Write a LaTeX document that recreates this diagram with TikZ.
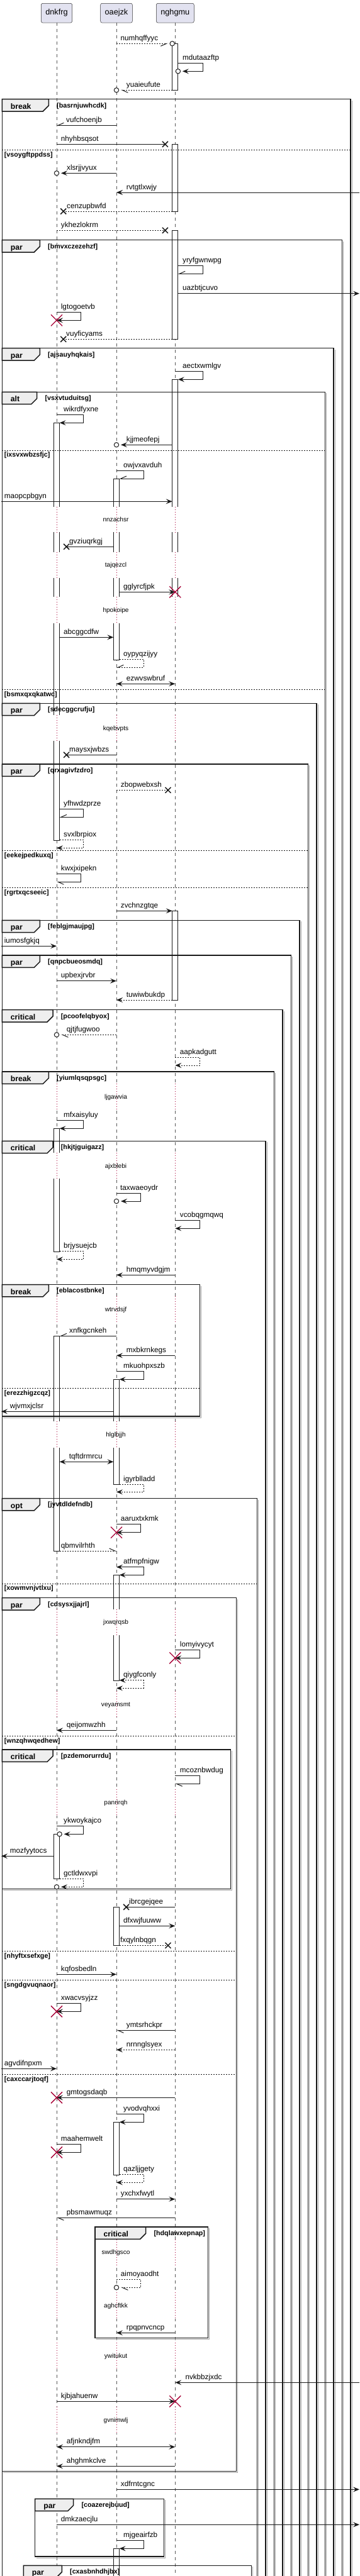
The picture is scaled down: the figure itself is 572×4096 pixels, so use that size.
\documentclass[tikz,border=0pt]{standalone}
\usepackage{fontspec}
\setmainfont{Liberation Sans}
\usetikzlibrary{arrows.meta,calc}

\definecolor{partfill}{HTML}{E2E2F0}
\definecolor{tabfill}{HTML}{EEEEEE}
\definecolor{delayred}{HTML}{A80036}

\tikzset{
  headF/.tip={Stealth[length=10pt,width=8pt,inset=4pt]},
  headH/.tip={Straight Barb[harpoon,length=9pt,width=8pt]},
  headHs/.tip={Straight Barb[harpoon,swap,length=9pt,width=8pt]},
}

% frame: left, top, right, bottom, tab width, kind, guard
\newcommand{\seqframe}[7]{%
  \draw[frameshadow] (#1+2,#4+2) -| (#3+2,#2+2);
  \draw[framebox] (#1,#2) rectangle (#3,#4);
  \filldraw[frametab] (#1,#2) -- (#1+#5,#2) -- (#1+#5,#2+10.3) -- (#1+#5-9,#2+19.3) -- (#1,#2+19.3) -- cycle;
  \node[framelbl] (#7-tab) at (#1+13.4,#2+15.6) {#6};
  \node[framecond] (#7) at (#1+#5+12.7,#2+13.4) {[#7]};
}
% else line: left, right, y, guard
\newcommand{\seqelse}[4]{%
  \draw[elseline] (#1,#3) -- (#2,#3);
  \node[framecond] (#4) at (#1+3.4,#3+10.8) {[#4]};
}
% delay: start, end, text
\newcommand{\seqdelay}[3]{%
  \foreach \lf in {d,o,n}{
    \fill[white] ($(\lf |- 0,#1)+(-6,0)$) rectangle ($(\lf |- 0,#2)+(6,0)$);
    \draw[delayline] (\lf |- 0,#1) -- (\lf |- 0,#2);
  }
  \node[delaylbl] (#3) at (184,{(#1+#2)/2+3.5}) {#3};
}
\newcommand{\lostmark}[1]{\draw[lostx] (#1) +(-4.5pt,-4.5pt) -- +(4.5pt,4.5pt) +(-4.5pt,4.5pt) -- +(4.5pt,-4.5pt);}
\newcommand{\destroymark}[1]{\draw[destroyx] (#1) +(-9pt,-9pt) -- +(9pt,9pt) +(-9pt,9pt) -- +(9pt,-9pt);}

\begin{document}
\begin{tikzpicture}[x=1pt, y=-1pt,
  partbox/.style={draw=black!80, line width=0.5pt, fill=partfill, rounded corners=2.5pt,
    minimum height=30.7pt, inner xsep=7pt, font=\fontsize{12.7}{15}\selectfont},
  lifeline/.style={draw=black!65, line width=0.5pt, dash pattern=on 5pt off 5pt},
  actbar/.style={draw=black!90, line width=1pt, fill=white},
  msg/.style={draw=black!90, line width=1pt},
  ret/.style={msg, dash pattern=on 2pt off 2pt},
  circ/.style={draw=black!90, line width=1pt, fill=white},
  lostx/.style={draw=black!90, line width=1.5pt},
  destroyx/.style={draw=delayred, line width=1.3pt},
  msglbl/.style={font=\fontsize{11.7}{14}\selectfont, inner sep=0pt, anchor=base west},
  framebox/.style={draw=black!90, line width=1.5pt},
  frameshadow/.style={draw=black!35, line width=1pt},
  frametab/.style={draw=black!90, line width=1.5pt, fill=tabfill},
  framelbl/.style={font=\bfseries\fontsize{12.2}{14}\selectfont, inner sep=0pt, anchor=base west},
  framecond/.style={font=\bfseries\fontsize{10.7}{13}\selectfont, inner sep=0pt, anchor=base west},
  elseline/.style={draw=black!90, line width=1pt, dash pattern=on 2pt off 2pt},
  delayline/.style={draw=delayred, line width=0.8pt, dash pattern=on 1pt off 3pt},
  delaylbl/.style={font=\fontsize{10.1}{12}\selectfont, inner sep=0pt, anchor=base},
]
\useasboundingbox (0,0) rectangle (572,4096);
\fill[white] (0,0) rectangle (572,4096);
\clip (0,0) rectangle (572,4096);

% Participants and lifelines
\node[partbox] (dnkfrg) at (90,20.7) {dnkfrg};
\node[partbox] (oaejzk) at (185,20.7) {oaejzk};
\node[partbox] (nghgmu) at (278.3,20.7) {nghgmu};
\coordinate (d) at (dnkfrg.south);
\coordinate (o) at (oaejzk.south);
\coordinate (n) at (nghgmu.south);
\coordinate (dL) at ($(d)+(-4.6,0)$);  \coordinate (dR) at ($(d)+(4.6,0)$);
\coordinate (oL) at ($(o)+(-4.6,0)$);  \coordinate (oR) at ($(o)+(4.6,0)$);
\coordinate (nL) at ($(n)+(-4.6,0)$);  \coordinate (nR) at ($(n)+(4.6,0)$);
\coordinate (dS) at ($(d)+(42.7,0)$);  \coordinate (dS0) at ($(d)+(38.3,0)$);
\coordinate (oS) at ($(o)+(43,0)$);    \coordinate (oS0) at ($(o)+(38.3,0)$);
\coordinate (nS) at ($(n)+(43.7,0)$);  \coordinate (nS0) at ($(n)+(39.4,0)$);
\coordinate (lft) at (2,0);
\coordinate (rgt) at (571,0);
\foreach \lf in {d,o,n} \draw[lifeline] (\lf) -- (\lf |- 0,4110);

% Activations
\foreach \a/\b in {69.3/143.3, 229.3/336, 366.3/539.3, 603.3/949.3, 1448.3/1590}
  \draw[actbar] (nL |- 0,\a) rectangle (nR |- 0,\b);
\foreach \a/\b in {761/1049.3, 2193.3/2360, 2504.3/2672.3, 3032.3/3093.3, 3374.3/3458.3, 4052.3/4110}
  \draw[actbar] (oL |- 0,\a) rectangle (oR |- 0,\b);
\foreach \a/\b in {672.3/1336, 1794.3/1990, 2124.3/2466, 2916.3/2987.7}
  \draw[actbar] (dL |- 0,\a) rectangle (dR |- 0,\b);

% Delays
\seqdelay{805.7}{846}{nnzachsr}
\seqdelay{877.7}{919}{tajqezcl}
\seqdelay{949.3}{991}{hpokoipe}
\seqdelay{1136.7}{1178.3}{kqebvpts}
\seqdelay{1723}{1764}{ljgawvia}
\seqdelay{1833.3}{1874}{ajxblebi}
\seqdelay{2061}{2102.3}{wtrvdsjf}
\seqdelay{2260}{2301.7}{hlglbjjh}
\seqdelay{2558.7}{2600}{jxwqrqsb}
\seqdelay{2689}{2730}{veyamsmt}
\seqdelay{2845}{2887}{panrirqh}
\seqdelay{3560.5}{3602}{swdhgsco}
\seqdelay{3645}{3687}{aghcftkk}
\seqdelay{3725}{3767}{ywitukut}
\seqdelay{3827}{3869}{gvnimwlj}

% Frames
\seqframe{3.3}{157.7}{557.2}{4110}{74}{break}{basrnjuwhcdk}
\seqelse{3.3}{557.2}{238.7}{vsoygftppdss}
\seqframe{3.3}{381.7}{543.7}{4110}{60}{par}{bmvxczezehzf}
\seqframe{3.3}{553.7}{530.2}{4110}{60}{par}{ajsauyhqkais}
\seqframe{3.3}{623.3}{516.7}{4110}{55.4}{alt}{vsxvtuduitsg}
\seqelse{3.3}{516.7}{716}{ixsvxwbzsfjc}
\seqelse{3.3}{516.7}{1096.3}{bsmxqxqkatwc}
\seqframe{3.3}{1118.3}{503.2}{4110}{60}{par}{sdecggcrufju}
\seqframe{3.3}{1215}{489.7}{4110}{60}{par}{qrxagivfzdro}
\seqelse{3.3}{489.7}{1352.3}{eekejpedkuxq}
\seqelse{3.3}{489.7}{1411.7}{rgrtxqcseeic}
\seqframe{3.3}{1463.3}{476.2}{4110}{60}{par}{feblgjmaujpg}
\seqframe{3.3}{1519}{462.7}{4110}{60}{par}{qnpcbueosmdq}
\seqframe{3.3}{1605.7}{449.2}{4110}{80.7}{critical}{pcoofelqbyox}
\seqframe{3.3}{1704}{435.7}{4110}{74}{break}{yiumlqsqpsgc}
\seqframe{3.3}{1814.3}{422.2}{4110}{80.7}{critical}{hkjtjguigazz}
\seqframe{3.3}{2042.5}{317.7}{2252}{74}{break}{eblacostbnke}
\seqelse{3.3}{317.7}{2207.3}{erezzhigzcqz}
\seqframe{3.3}{2382.5}{408.7}{4110}{60}{opt}{jyvtdldefndb}
\seqelse{3.3}{408.7}{2518}{xowmvnjvtlxu}
\seqframe{3.3}{2540.7}{375.3}{3929.3}{60}{par}{cdsysxjjajrl}
\seqelse{3.3}{375.3}{2760.3}{wnzqhwqedhew}
\seqelse{3.3}{375.3}{3102.3}{nhyftxsefxge}
\seqelse{3.3}{375.3}{3148.3}{sngdgvuqnaor}
\seqelse{3.3}{375.3}{3298.3}{caxccarjtoqf}
\seqframe{3.3}{2782}{366.3}{3003.7}{80.7}{critical}{pzdemorurrdu}
\seqframe{151}{3541}{330.3}{3717.7}{80.7}{critical}{hdqlawxepnap}
\seqframe{55.7}{3973.3}{260.7}{4065}{61}{par}{coazerejbuud}
\seqframe{37.3}{4079.3}{399.7}{4110}{61}{par}{cxasbnhdhjbx}

% Messages
% numhqffyyc
\draw[ret,-{headHs}] (o |- 0,69.3) -- ($(nL |- 0,69.3)+(-7,0)$);
\draw[circ] (nL |- 0,69.3) circle (3.7pt);
\node[msglbl] (numhqffyyc) at (191.3,64.3) {numhqffyyc};
% mdutaazftp
\draw[msg,-{headF}] (nR |- 0,100.3) -- (nS |- 0,100.3) |- ($(nR |- 0,113.3)+(7,0)$);
\draw[circ] (nR |- 0,113.3) circle (3.7pt);
\node[msglbl] (mdutaazftp) at (290,95.3) {mdutaazftp};
% yuaieufute
\draw[ret,-{headH}] (nL |- 0,143.3) -- ($(o |- 0,143.3)+(7,0)$);
\draw[circ] (o |- 0,143.3) circle (3.7pt);
\node[msglbl] (yuaieufute) at (200.7,138.3) {yuaieufute};
% vufchoenjb
\draw[msg,-{headHs}] (o |- 0,199.3) -- (d |- 0,199.3);
\node[msglbl] (vufchoenjb) at (105,194.3) {vufchoenjb};
% nhyhbsqsot
\coordinate (nhyhbsqsot-x) at ($(nL |- 0,229.3)+(-11.3,0)$);
\draw[msg] (d |- 0,229.3) -- (nhyhbsqsot-x);
\lostmark{nhyhbsqsot-x}
\node[msglbl] (nhyhbsqsot) at (96.7,224.3) {nhyhbsqsot};
% xlsrjjvyux
\draw[msg,-{headF}] (o |- 0,275.3) -- ($(d |- 0,275.3)+(7,0)$);
\draw[circ] (d |- 0,275.3) circle (3.7pt);
\node[msglbl] (xlsrjjvyux) at (106,270.3) {xlsrjjvyux};
% rvtgtlxwjy
\draw[msg,-{headF}] (rgt |- 0,306) -- (o |- 0,306);
\node[msglbl] (rvtgtlxwjy) at (200.7,301) {rvtgtlxwjy};
% cenzupbwfd
\coordinate (cenzupbwfd-x) at ($(d |- 0,336)+(10.7,0)$);
\draw[ret] (nL |- 0,336) -- (cenzupbwfd-x);
\lostmark{cenzupbwfd-x}
\node[msglbl] (cenzupbwfd) at (106,331) {cenzupbwfd};
% ykhezlokrm
\coordinate (ykhezlokrm-x) at ($(nL |- 0,366.3)+(-11.3,0)$);
\draw[ret] (d |- 0,366.3) -- (ykhezlokrm-x);
\lostmark{ykhezlokrm-x}
\node[msglbl] (ykhezlokrm) at (96.7,361.3) {ykhezlokrm};
% yryfgwnwpg
\draw[msg,-{headHs}] (nR |- 0,422.3) -- (nS |- 0,422.3) |- (nR |- 0,435.3);
\node[msglbl] (yryfgwnwpg) at (290,417.3) {yryfgwnwpg};
% uazbtjcuvo
\draw[msg,-{headF}] (nR |- 0,466.7) -- (rgt |- 0,466.7);
\node[msglbl] (uazbtjcuvo) at (290,461.7) {uazbtjcuvo};
% lgtogoetvb
\draw[msg,-{headF}] (d |- 0,496.3) -- (dS0 |- 0,496.3) |- (d |- 0,509.3);
\destroymark{d |- 0,509.3}
\node[msglbl] (lgtogoetvb) at (96.7,491.3) {lgtogoetvb};
% vuyficyams
\coordinate (vuyficyams-x) at ($(d |- 0,539.3)+(10.7,0)$);
\draw[ret] (nL |- 0,539.3) -- (vuyficyams-x);
\lostmark{vuyficyams-x}
\node[msglbl] (vuyficyams) at (105,534.3) {vuyficyams};
% aectxwmlgv
\draw[msg,-{headF}] (n |- 0,590.3) -- (nS |- 0,590.3) |- (nR |- 0,603.3);
\node[msglbl] (aectxwmlgv) at (290,585.3) {aectxwmlgv};
% wikrdfyxne
\draw[msg,-{headF}] (d |- 0,659.3) -- (dS |- 0,659.3) |- (dR |- 0,672.3);
\node[msglbl] (wikrdfyxne) at (101,654.3) {wikrdfyxne};
% kjjmeofepj
\draw[msg,-{headF}] (nL |- 0,707.3) -- ($(o |- 0,707.3)+(7,0)$);
\draw[circ] (o |- 0,707.3) circle (3.7pt);
\node[msglbl] (kjjmeofepj) at (200.7,702.3) {kjjmeofepj};
% owjvxavduh
\draw[msg,-{headHs}] (o |- 0,748.3) -- (oS |- 0,748.3) |- (oR |- 0,761);
\node[msglbl] (owjvxavduh) at (196,743.3) {owjvxavduh};
% maopcpbgyn
\draw[msg,-{headF}] (lft |- 0,797.3) -- (nL |- 0,797.3);
\node[msglbl] (maopcpbgyn) at (6.7,792.3) {maopcpbgyn};
% gvziuqrkgj
\coordinate (gvziuqrkgj-x) at ($(dR |- 0,869.3)+(11,0)$);
\draw[msg] (oL |- 0,869.3) -- (gvziuqrkgj-x);
\lostmark{gvziuqrkgj-x}
\node[msglbl] (gvziuqrkgj) at (110,864.3) {gvziuqrkgj};
% gglyrcfjpk
\draw[msg,-{headF}] (oR |- 0,941.3) -- (n |- 0,941.3);
\destroymark{n |- 0,941.3}
\node[msglbl] (gglyrcfjpk) at (196,936.3) {gglyrcfjpk};
% abcggcdfw
\draw[msg,-{headF}] (dR |- 0,1013.3) -- (oL |- 0,1013.3);
\node[msglbl] (abcggcdfw) at (101,1008.3) {abcggcdfw};
% oypyqzijyy
\draw[ret,-{headHs}] (oR |- 0,1048.3) -- (oS |- 0,1048.3) |- (o |- 0,1061.3);
\node[msglbl] (oypyqzijyy) at (196,1043.3) {oypyqzijyy};
% ezwvswbruf
\draw[msg,{headF}-{headF}] (o |- 0,1087.3) -- (n |- 0,1087.3);
\node[msglbl] (ezwvswbruf) at (200.7,1082.3) {ezwvswbruf};
% maysxjwbzs
\coordinate (maysxjwbzs-x) at ($(dR |- 0,1200.3)+(11,0)$);
\draw[msg] (o |- 0,1200.3) -- (maysxjwbzs-x);
\lostmark{maysxjwbzs-x}
\node[msglbl] (maysxjwbzs) at (110,1195.3) {maysxjwbzs};
% zbopwebxsh
\coordinate (zbopwebxsh-x) at ($(n |- 0,1256.3)+(-11.3,0)$);
\draw[ret] (o |- 0,1256.3) -- (zbopwebxsh-x);
\lostmark{zbopwebxsh-x}
\node[msglbl] (zbopwebxsh) at (191.7,1251.3) {zbopwebxsh};
% yfhwdzprze
\draw[msg,-{headHs}] (dR |- 0,1286.7) -- (dS |- 0,1286.7) |- (dR |- 0,1299.3);
\node[msglbl] (yfhwdzprze) at (101,1281.7) {yfhwdzprze};
% svxlbrpiox
\draw[ret,-{headF}] (dR |- 0,1335.7) -- (dS |- 0,1335.7) |- (d |- 0,1348.3);
\node[msglbl] (svxlbrpiox) at (101,1330.7) {svxlbrpiox};
% kwxjxipekn
\draw[msg,-{headH}] (d |- 0,1389.3) -- (dS0 |- 0,1389.3) |- (d |- 0,1402.3);
\node[msglbl] (kwxjxipekn) at (96.7,1384.3) {kwxjxipekn};
% zvchnzgtqe
\draw[msg,-{headF}] (o |- 0,1448.3) -- (nL |- 0,1448.3);
\node[msglbl] (zvchnzgtqe) at (191.7,1443.3) {zvchnzgtqe};
% iumosfgkjq
\draw[msg,-{headF}] (lft |- 0,1504.3) -- (d |- 0,1504.3);
\node[msglbl] (iumosfgkjq) at (6.7,1499.3) {iumosfgkjq};
% upbexjrvbr
\draw[msg,-{headF}] (d |- 0,1559.7) -- (o |- 0,1559.7);
\node[msglbl] (upbexjrvbr) at (96.7,1554.7) {upbexjrvbr};
% tuwiwbukdp
\draw[ret,-{headF}] (nL |- 0,1590) -- (o |- 0,1590);
\node[msglbl] (tuwiwbukdp) at (200.7,1585) {tuwiwbukdp};
% qjtjfugwoo
\draw[ret,-{headH}] (o |- 0,1645.3) -- ($(d |- 0,1645.3)+(7,0)$);
\draw[circ] (d |- 0,1645.3) circle (3.7pt);
\node[msglbl] (qjtjfugwoo) at (105.7,1640.3) {qjtjfugwoo};
% aapkadgutt
\draw[ret,-{headF}] (n |- 0,1681.3) -- (nS0 |- 0,1681.3) |- (n |- 0,1694);
\node[msglbl] (aapkadgutt) at (285.7,1676.3) {aapkadgutt};
% mfxaisyluy
\draw[msg,-{headF}] (d |- 0,1781.3) -- (dS |- 0,1781.3) |- (dR |- 0,1794.3);
\node[msglbl] (mfxaisyluy) at (101,1776.3) {mfxaisyluy};
% taxwaeoydr
\draw[msg,-{headF}] (o |- 0,1897.3) -- (oS0 |- 0,1897.3) |- ($(o |- 0,1910)+(7,0)$);
\draw[circ] (o |- 0,1910) circle (3.7pt);
\node[msglbl] (taxwaeoydr) at (191,1892.3) {taxwaeoydr};
% vcobqgmqwq
\draw[msg,-{headF}] (n |- 0,1940.3) -- (nS0 |- 0,1940.3) |- (n |- 0,1953.3);
\node[msglbl] (vcobqgmqwq) at (285.7,1935.3) {vcobqgmqwq};
% brjysuejcb
\draw[ret,-{headF}] (dR |- 0,1989.7) -- (dS |- 0,1989.7) |- (d |- 0,2002.3);
\node[msglbl] (brjysuejcb) at (101,1984.7) {brjysuejcb};
% hmqmyvdgjm
\draw[msg,-{headF}] (n |- 0,2027.3) -- (o |- 0,2027.3);
\node[msglbl] (hmqmyvdgjm) at (200.7,2022.3) {hmqmyvdgjm};
% xnfkgcnkeh
\draw[msg,-{headHs}] (o |- 0,2124.3) -- (dR |- 0,2124.3);
\node[msglbl] (xnfkgcnkeh) at (110,2119.3) {xnfkgcnkeh};
% mxbkrnkegs
\draw[msg,-{headF}] (n |- 0,2155.3) -- (o |- 0,2155.3);
\node[msglbl] (mxbkrnkegs) at (200.7,2150.3) {mxbkrnkegs};
% mkuohpxszb
\draw[msg,-{headF}] (o |- 0,2180.3) -- (oS |- 0,2180.3) |- (oR |- 0,2193.3);
\node[msglbl] (mkuohpxszb) at (196,2175.3) {mkuohpxszb};
% wjvmxjclsr
\draw[msg,-{headF}] (oL |- 0,2244.3) -- (lft |- 0,2244.3);
\node[msglbl] (wjvmxjclsr) at (15.7,2239.3) {wjvmxjclsr};
% tqftdrmrcu
\draw[msg,{headF}-{headF}] (dR |- 0,2324.3) -- (oL |- 0,2324.3);
\node[msglbl] (tqftdrmrcu) at (109.7,2319.3) {tqftdrmrcu};
% igyrblladd
\draw[ret,-{headF}] (oR |- 0,2360) -- (oS |- 0,2360) |- (o |- 0,2372.3);
\node[msglbl] (igyrblladd) at (196,2355) {igyrblladd};
% aaruxtxkmk
\draw[msg,-{headF}] (o |- 0,2423.3) -- (oS0 |- 0,2423.3) |- (o |- 0,2436.7);
\destroymark{o |- 0,2436.7}
\node[msglbl] (aaruxtxkmk) at (191.7,2418.3) {aaruxtxkmk};
% qbmvilrhth
\draw[ret,-{headH}] (dR |- 0,2466) -- (o |- 0,2466);
\node[msglbl] (qbmvilrhth) at (96.7,2461) {qbmvilrhth};
% atfmpfnigw
\draw[msg,{headF}-{headF}] (o |- 0,2491.7) -- (oS |- 0,2491.7) |- (oR |- 0,2504.3);
\node[msglbl] (atfmpfnigw) at (196,2486.7) {atfmpfnigw};
% lomyivycyt
\draw[msg,-{headF}] (n |- 0,2623.3) -- (nS0 |- 0,2623.3) |- (n |- 0,2636.3);
\destroymark{n |- 0,2636.3}
\node[msglbl] (lomyivycyt) at (285.7,2618.3) {lomyivycyt};
% qiygfconly
\draw[ret,{headF}-{headF}] (oR |- 0,2671.7) -- (oS |- 0,2671.7) |- (o |- 0,2684.3);
\node[msglbl] (qiygfconly) at (196,2666.7) {qiygfconly};
% qeijomwzhh
\draw[msg,-{headF}] (o |- 0,2751.3) -- (d |- 0,2751.3);
\node[msglbl] (qeijomwzhh) at (105.7,2746.3) {qeijomwzhh};
% mcoznbwdug
\draw[msg,-{headH}] (n |- 0,2823.3) -- (nS0 |- 0,2823.3) |- (n |- 0,2836.3);
\node[msglbl] (mcoznbwdug) at (285.7,2818.3) {mcoznbwdug};
% ykwoykajco
\draw[msg,-{headF}] (d |- 0,2903) -- (dS |- 0,2903) |- ($(dR |- 0,2916.3)+(7,0)$);
\draw[circ] (dR |- 0,2916.3) circle (3.7pt);
\node[msglbl] (ykwoykajco) at (101,2898) {ykwoykajco};
% mozfyytocs
\draw[msg,-{headF}] (dL |- 0,2951.3) -- (lft |- 0,2951.3);
\node[msglbl] (mozfyytocs) at (15.7,2946.3) {mozfyytocs};
% gctldwxvpi
\draw[ret,-{headF}] (dR |- 0,2987.7) -- (dS |- 0,2987.7) |- ($(d |- 0,3000.3)+(7,0)$);
\draw[circ] (d |- 0,3000.3) circle (3.7pt);
\node[msglbl] (gctldwxvpi) at (101,2982.7) {gctldwxvpi};
% ibrcgejqee
\coordinate (ibrcgejqee-x) at ($(oR |- 0,3032.3)+(11,0)$);
\draw[msg] (n |- 0,3032.3) -- (ibrcgejqee-x);
\lostmark{ibrcgejqee-x}
\node[msglbl] (ibrcgejqee) at (205,3027.3) {ibrcgejqee};
% dfxwjfuuww
\draw[msg,-{headF}] (oR |- 0,3062.3) -- (n |- 0,3062.3);
\node[msglbl] (dfxwjfuuww) at (196,3057.3) {dfxwjfuuww};
% fxqylnbqgn
\coordinate (fxqylnbqgn-x) at ($(n |- 0,3093.3)+(-11.3,0)$);
\draw[ret] (oR |- 0,3093.3) -- (fxqylnbqgn-x);
\lostmark{fxqylnbqgn-x}
\node[msglbl] (fxqylnbqgn) at (191,3088.3) {fxqylnbqgn};
% kqfosbedln
\draw[msg,-{headF}] (d |- 0,3139.3) -- (o |- 0,3139.3);
\node[msglbl] (kqfosbedln) at (96.7,3134.3) {kqfosbedln};
% xwacvsyjzz
\draw[msg,-{headF}] (d |- 0,3185.3) -- (dS0 |- 0,3185.3) |- (d |- 0,3198.3);
\destroymark{d |- 0,3198.3}
\node[msglbl] (xwacvsyjzz) at (96.7,3180.3) {xwacvsyjzz};
% ymtsrhckpr
\draw[msg,-{headH}] (n |- 0,3228.3) -- (o |- 0,3228.3);
\node[msglbl] (ymtsrhckpr) at (200.7,3223.3) {ymtsrhckpr};
% nrnnglsyex
\draw[ret,-{headF}] (n |- 0,3259.3) -- (o |- 0,3259.3);
\node[msglbl] (nrnnglsyex) at (200.7,3254.3) {nrnnglsyex};
% agvdifnpxm
\draw[msg,-{headF}] (lft |- 0,3289.3) -- (d |- 0,3289.3);
\node[msglbl] (agvdifnpxm) at (6.7,3284.3) {agvdifnpxm};
% gmtogsdaqb
\draw[msg,-{headF}] (n |- 0,3335.3) -- (d |- 0,3335.3);
\destroymark{d |- 0,3335.3}
\node[msglbl] (gmtogsdaqb) at (105.7,3330.3) {gmtogsdaqb};
% yvodvqhxxi
\draw[msg,-{headF}] (o |- 0,3361.3) -- (oS |- 0,3361.3) |- (oR |- 0,3374.3);
\node[msglbl] (yvodvqhxxi) at (196,3356.3) {yvodvqhxxi};
% maahemwelt
\draw[msg,-{headF}] (d |- 0,3409.3) -- (dS0 |- 0,3409.3) |- (d |- 0,3422.3);
\destroymark{d |- 0,3422.3}
\node[msglbl] (maahemwelt) at (96.7,3404.3) {maahemwelt};
% qazljjgety
\draw[ret,-{headF}] (oR |- 0,3457.3) -- (oS |- 0,3457.3) |- (o |- 0,3470.3);
\node[msglbl] (qazljjgety) at (196,3452.3) {qazljjgety};
% yxchxfwytl
\draw[msg,-{headF}] (o |- 0,3496.7) -- (n |- 0,3496.7);
\node[msglbl] (yxchxfwytl) at (191.7,3491.7) {yxchxfwytl};
% pbsmawmuqz
\draw[msg,-{headH}] (n |- 0,3526.3) -- (d |- 0,3526.3);
\node[msglbl] (pbsmawmuqz) at (105.7,3521.3) {pbsmawmuqz};
% aimoyaodht
\draw[ret,-{headH}] (o |- 0,3624.3) -- (oS0 |- 0,3624.3) |- ($(o |- 0,3637.3)+(7,0)$);
\draw[circ] (o |- 0,3637.3) circle (3.7pt);
\node[msglbl] (aimoyaodht) at (191.7,3619.3) {aimoyaodht};
% rpqpnvcncp
\draw[msg,-{headF}] (n |- 0,3709.3) -- (o |- 0,3709.3);
\node[msglbl] (rpqpnvcncp) at (200.7,3704.3) {rpqpnvcncp};
% nvkbbzjxdc
\draw[msg,-{headF}] (rgt |- 0,3788.3) -- (n |- 0,3788.3);
\node[msglbl] (nvkbbzjxdc) at (294.3,3783.3) {nvkbbzjxdc};
% kjbjahuenw
\draw[msg,-{headF}] (d |- 0,3818.3) -- (n |- 0,3818.3);
\destroymark{n |- 0,3818.3}
\node[msglbl] (kjbjahuenw) at (96.7,3813.3) {kjbjahuenw};
% afjnkndjfm
\draw[msg,{headF}-{headF}] (d |- 0,3890.7) -- (n |- 0,3890.7);
\node[msglbl] (afjnkndjfm) at (105.7,3885.7) {afjnkndjfm};
% ahghmkclve
\draw[msg,-{headF}] (n |- 0,3921.3) -- (d |- 0,3921.3);
\node[msglbl] (ahghmkclve) at (105.7,3916.3) {ahghmkclve};
% xdfrntcgnc
\draw[msg,-{headF}] (o |- 0,3958.3) -- (rgt |- 0,3958.3);
\node[msglbl] (xdfrntcgnc) at (191.7,3953.3) {xdfrntcgnc};
% dmkzaecjlu
\draw[msg,-{headF}] (d |- 0,4014.3) -- (rgt |- 0,4014.3);
\node[msglbl] (dmkzaecjlu) at (96.7,4009.3) {dmkzaecjlu};
% mjgeairfzb
\draw[msg,-{headF}] (o |- 0,4039.3) -- (oS |- 0,4039.3) |- (oR |- 0,4052.3);
\node[msglbl] (mjgeairfzb) at (196,4034.3) {mjgeairfzb};
\end{tikzpicture}
\end{document}
